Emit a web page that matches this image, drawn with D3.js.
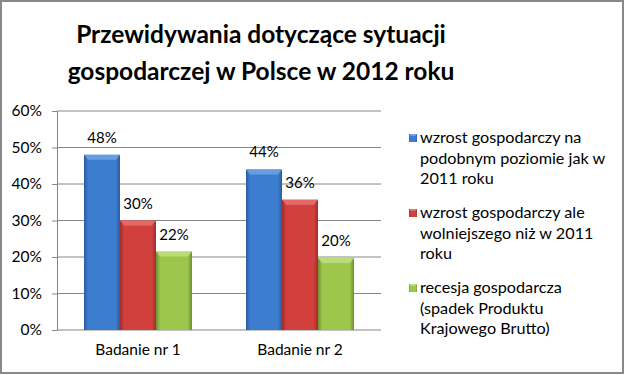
<!DOCTYPE html>
<html>
<head>
<meta charset="utf-8">
<script src="https://cdn.jsdelivr.net/npm/d3@7"></script>
<style>
  body { margin: 0; background: #fff; }
  text { font-family: Lato, 'Open Sans', sans-serif; }
</style>
</head>
<body>
<div id="chart"></div>
<script>
const categories = ['Badanie nr 1', 'Badanie nr 2']
const seriesNames = [
  ['wzrost gospodarczy na', 'podobnym poziomie jak w', '2011 roku'],
  ['wzrost gospodarczy ale', 'wolniejszego niż w 2011', 'roku'],
  ['recesja gospodarcza', '(spadek Produktu', 'Krajowego Brutto)']
]
const values = [
  [0.48, 0.30, 0.215],
  [0.44, 0.357, 0.197]
]
const yTicks = [0, 0.1, 0.2, 0.3, 0.4, 0.5, 0.6]
const titleLines = ['Przewidywania dotyczące sytuacji', 'gospodarczej w Polsce w 2012 roku']

const colors = [
  { mid: '#3d7dd0', edge: '#2b5c9c', top: '#6fa2e4' },
  { mid: '#d2403d', edge: '#9e2d2b', top: '#e57371' },
  { mid: '#9dc64c', edge: '#6f8f32', top: '#c0e07c' }
]

const width = 625
const height = 375
const margin = { top: 111, right: 244, bottom: 45, left: 57 }

const svg = d3.select('#chart')
  .append('svg')
  .attr('width', width)
  .attr('height', height)

const defs = svg.append('defs')
colors.forEach((c, i) => {
  const g = defs.append('linearGradient')
    .attr('id', 'grad' + i)
    .attr('x1', 0).attr('x2', 1).attr('y1', 0).attr('y2', 0)
  g.append('stop').attr('offset', '0%').attr('stop-color', c.edge)
  g.append('stop').attr('offset', '12%').attr('stop-color', c.mid)
  g.append('stop').attr('offset', '88%').attr('stop-color', c.mid)
  g.append('stop').attr('offset', '100%').attr('stop-color', c.edge)
})

// chart border
svg.append('rect')
  .attr('x', 1).attr('y', 1)
  .attr('width', width - 3).attr('height', height - 3)
  .attr('fill', '#fff')
  .attr('stroke', '#898989')
  .attr('stroke-width', 2)

// title
svg.append('g')
  .selectAll('text')
  .data(titleLines)
  .join('text')
  .attr('x', 261)
  .attr('y', (d, i) => 43 + i * 37)
  .attr('text-anchor', 'middle')
  .style('font-size', '24.5px')
  .style('font-weight', 'bold')
  .attr('fill', '#000')
  .text(d => d)

const x0 = d3.scaleBand()
  .domain(categories)
  .range([margin.left, width - margin.right])

const x1 = d3.scaleBand()
  .domain(d3.range(3))
  .range([0, x0.bandwidth()])
  .paddingOuter(0.75)
  .paddingInner(0)

const y = d3.scaleLinear()
  .domain([0, 0.6])
  .range([height - margin.bottom, margin.top])

// gridlines
svg.append('g')
  .selectAll('line')
  .data(yTicks)
  .join('line')
  .attr('x1', margin.left)
  .attr('x2', width - margin.right)
  .attr('y1', d => y(d))
  .attr('y2', d => y(d))
  .attr('stroke', '#868686')
  .attr('stroke-width', 1)

// y axis
svg.append('g')
  .attr('transform', `translate(${margin.left}, 0)`)
  .call(d3.axisLeft(y).tickValues(yTicks).tickFormat(d3.format('.0%')).tickSize(5).tickPadding(10))
  .call(g => g.select('.domain').attr('stroke', '#868686'))
  .call(g => g.selectAll('.tick line').attr('stroke', '#868686'))
  .call(g => g.selectAll('.tick text')
    .style('font-size', '15.5px')
    .attr('fill', '#000'))

// x axis
svg.append('g')
  .attr('transform', `translate(0, ${height - margin.bottom})`)
  .call(d3.axisBottom(x0).tickSize(0).tickPadding(14))
  .call(g => g.select('.domain').remove())
  .call(g => g.selectAll('.tick text')
    .style('font-size', '15.5px')
    .attr('fill', '#000'))

const groups = svg.append('g')
  .selectAll('g')
  .data(values)
  .join('g')
  .attr('transform', (d, i) => `translate(${x0(categories[i])}, 0)`)

groups.selectAll('rect.bar')
  .data(d => d)
  .join('rect')
  .attr('class', 'bar')
  .attr('x', (d, i) => x1(i))
  .attr('y', d => y(d))
  .attr('width', x1.bandwidth())
  .attr('height', d => y(0) - y(d))
  .attr('fill', (d, i) => `url(#grad${i})`)

// top bevel
groups.selectAll('path.bevel')
  .data(d => d)
  .join('path')
  .attr('class', 'bevel')
  .attr('d', (d, i) => {
    const bx = x1(i), by = y(d), bw = x1.bandwidth()
    return `M${bx},${by}H${bx + bw}L${bx + bw - 4},${by + 5}H${bx + 4}Z`
  })
  .attr('fill', (d, i) => colors[i].top)
  .attr('opacity', 0.85)

groups.selectAll('text.label')
  .data(d => d)
  .join('text')
  .attr('class', 'label')
  .attr('x', (d, i) => x1(i) + x1.bandwidth() / 2)
  .attr('y', d => y(d) - 12)
  .attr('text-anchor', 'middle')
  .style('font-size', '15px')
  .attr('fill', '#000')
  .text(d => Math.round(d * 100) + '%')

// legend
const legend = svg.append('g')
  .selectAll('g')
  .data(seriesNames)
  .join('g')
  .attr('transform', (d, i) => `translate(409, ${143 + i * 75})`)

legend.append('rect')
  .attr('x', 0).attr('y', -9)
  .attr('width', 8).attr('height', 8)
  .attr('fill', (d, i) => `url(#grad${i})`)

legend.append('path')
  .attr('d', 'M0,-9H8L6,-7H2Z')
  .attr('fill', (d, i) => colors[i].top)

legend.selectAll('text')
  .data(d => d)
  .join('text')
  .attr('x', 11)
  .attr('y', (d, i) => i * 20.5)
  .style('font-size', '16.2px')
  .attr('fill', '#000')
  .text(d => d)
</script>
</body>
</html>
